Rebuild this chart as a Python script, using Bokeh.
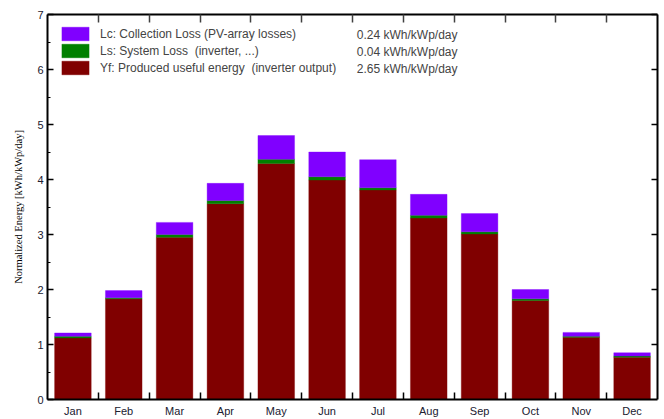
from bokeh.plotting import figure
from bokeh.models import (ColumnDataSource, FixedTicker, Label, Legend,
                          LegendItem, LinearAxis, Range1d)
from bokeh.embed import file_html
from bokeh.resources import INLINE

# monthly normalized energies, kWh/kWp/day
months = ["Jan", "Feb", "Mar", "Apr", "May", "Jun",
          "Jul", "Aug", "Sep", "Oct", "Nov", "Dec"]
yf = [1.12, 1.83, 2.95, 3.56, 4.29, 3.99, 3.81, 3.30, 3.01, 1.80, 1.13, 0.77]
ls = [0.03, 0.02, 0.05, 0.06, 0.08, 0.06, 0.04, 0.05, 0.04, 0.03, 0.02, 0.02]
lc = [0.06, 0.13, 0.22, 0.31, 0.43, 0.45, 0.51, 0.38, 0.33, 0.17, 0.07, 0.06]

legend_names = ["Lc: Collection Loss (PV-array losses)",
                "Ls: System Loss  (inverter, ...)",
                "Yf: Produced useful energy  (inverter output)"]
legend_means = [0.24, 0.04, 2.65]

colors = {"yf": "#800000", "ls": "#008000", "lc": "#8000ff"}
FONT = "Liberation Sans"
TICK_COLOR = "#202030"

W, H = 664, 419
B_LEFT, B_TOP, B_RIGHT, B_BOTTOM = 47, 14, 7, 20

pos = list(range(1, len(months) + 1))
src = ColumnDataSource(dict(x=pos, yf=yf, ls=ls, lc=lc))

p = figure(width=W, height=H, output_backend="svg", toolbar_location=None,
           x_range=Range1d(0.5, len(months) + 0.5), y_range=Range1d(0, 7),
           min_border_left=B_LEFT, min_border_top=B_TOP,
           min_border_right=B_RIGHT, min_border_bottom=B_BOTTOM)
p.outline_line_color = None
p.xgrid.visible = False
p.ygrid.visible = False

rs = p.vbar_stack(["yf", "ls", "lc"], x="x", width=0.72, source=src,
                  color=[colors["yf"], colors["ls"], colors["lc"]],
                  line_alpha=0.35)

bounds = [x + 0.5 for x in pos[:-1]]

# bottom axis: month names at centres, ticks at boundaries
xa = p.xaxis[0]
xa.ticker = FixedTicker(ticks=pos, minor_ticks=bounds)
xa.major_label_overrides = {x: m for x, m in zip(pos, months)}
xa.major_tick_line_color = None
xa.major_tick_in = 0
xa.major_tick_out = 0
xa.minor_tick_in = 7
xa.minor_tick_out = 0
xa.minor_tick_line_width = 1.5
xa.axis_line_width = 2
xa.major_label_standoff = 5
xa.major_label_text_font = FONT
xa.major_label_text_font_size = "11px"
xa.major_label_text_color = TICK_COLOR

top = LinearAxis(ticker=FixedTicker(ticks=[], minor_ticks=bounds),
                 major_tick_in=0, major_tick_out=0, major_label_standoff=0,
                 minor_tick_in=8, minor_tick_out=0, minor_tick_line_width=1.5,
                 minor_tick_line_color="#404040", axis_line_width=2)
p.add_layout(top, "above")

ya = p.yaxis[0]
ya.ticker = FixedTicker(ticks=list(range(8)),
                        minor_ticks=[i + 0.5 for i in range(7)])
ya.major_tick_in = 6
ya.major_tick_out = 0
ya.minor_tick_in = 3
ya.minor_tick_out = 0
ya.major_tick_line_width = 1.5
ya.axis_line_width = 2
ya.major_label_standoff = 4
ya.major_label_text_font = FONT
ya.major_label_text_font_size = "11px"
ya.major_label_text_color = TICK_COLOR
ya.axis_label = "Normalized Energy [kWh/kWp/day]"
ya.axis_label_text_font = "Liberation Serif"
ya.axis_label_text_font_size = "10.5px"
ya.axis_label_text_font_style = "normal"
ya.axis_label_text_color = "black"
ya.axis_label_standoff = 10

# right axis: tick marks only
right = LinearAxis(ticker=FixedTicker(ticks=[], minor_ticks=list(range(1, 8))),
                   major_tick_in=0, major_tick_out=0, major_label_standoff=0,
                   minor_tick_in=6, minor_tick_out=0, minor_tick_line_width=1.5,
                   axis_line_width=2)
p.add_layout(right, "right")

items = [LegendItem(label=legend_names[0], renderers=[rs[2]]),
         LegendItem(label=legend_names[1], renderers=[rs[1]]),
         LegendItem(label=legend_names[2], renderers=[rs[0]])]
legend = Legend(items=items, location="top_left", margin=11, padding=3,
                spacing=0, glyph_width=34, glyph_height=17, label_height=17,
                label_standoff=8, label_text_font=FONT,
                label_text_font_size="12px", border_line_color=None,
                background_fill_alpha=0)
p.add_layout(legend)

frame_h = H - B_TOP - B_BOTTOM
for i, v in enumerate(legend_means):
    p.add_layout(Label(x=410, y=frame_h - 20 - 17 * i,
                       x_units="screen", y_units="screen",
                       text=f"{v:.2f} kWh/kWp/day", text_align="right",
                       text_baseline="middle", text_font=FONT,
                       text_font_size="12px"))

open("out.html", "w").write(file_html(p, INLINE))
